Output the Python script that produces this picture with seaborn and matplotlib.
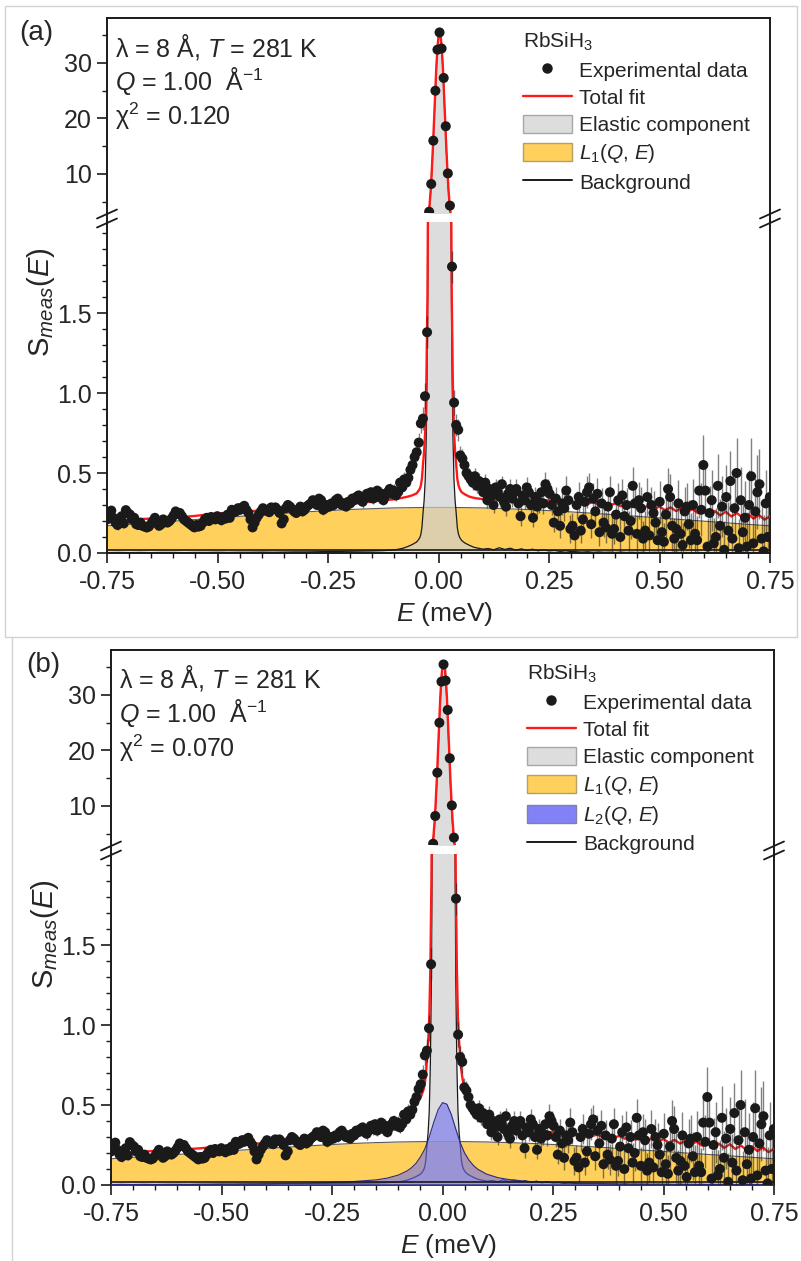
import numpy as np
import pandas as pd
import matplotlib
matplotlib.use("Agg")
import matplotlib.pyplot as plt
import seaborn as sns
from matplotlib.lines import Line2D
from matplotlib.patches import Patch, Rectangle
from matplotlib.ticker import MultipleLocator, FixedLocator, FormatStrFormatter

sns.set_theme(style="ticks")
plt.rcParams["font.family"] = ["Liberation Sans", "DejaVu Sans"]
plt.rcParams["mathtext.fontset"] = "custom"
plt.rcParams["mathtext.rm"] = "Liberation Sans"
plt.rcParams["mathtext.it"] = "Liberation Sans:italic"
plt.rcParams["mathtext.bf"] = "Liberation Sans:bold"
plt.rcParams["axes.unicode_minus"] = False

# ---------------- experimental data (same data set in both panels) ----------------
E_data = 0.00235 + 0.0047 * np.arange(-160, 160)
S_rows = [
    [0.21, 0.24, 0.265, 0.22, 0.19, 0.175, 0.20, 0.23, 0.185, 0.268, 0.25, 0.24, 0.21, 0.22, 0.18, 0.175, 0.19, 0.17, 0.165, 0.16],
    [0.165, 0.18, 0.20, 0.22, 0.19, 0.17, 0.18, 0.21, 0.20, 0.19, 0.20, 0.215, 0.235, 0.26, 0.245, 0.25, 0.23, 0.21, 0.20, 0.19],
    [0.18, 0.17, 0.16, 0.175, 0.165, 0.17, 0.19, 0.21, 0.22, 0.20, 0.225, 0.215, 0.21, 0.23, 0.22, 0.205, 0.225, 0.215, 0.24, 0.22],
    [0.27, 0.255, 0.26, 0.28, 0.27, 0.285, 0.295, 0.27, 0.25, 0.21, 0.16, 0.19, 0.22, 0.24, 0.26, 0.28, 0.265, 0.27, 0.255, 0.285],
    [0.275, 0.285, 0.27, 0.25, 0.185, 0.21, 0.28, 0.30, 0.29, 0.275, 0.26, 0.25, 0.27, 0.29, 0.26, 0.27, 0.29, 0.30, 0.31, 0.33],
    [0.32, 0.30, 0.34, 0.33, 0.27, 0.28, 0.30, 0.29, 0.31, 0.30, 0.33, 0.34, 0.32, 0.30, 0.31, 0.29, 0.32, 0.31, 0.34, 0.33],
    [0.35, 0.36, 0.33, 0.32, 0.34, 0.37, 0.35, 0.38, 0.34, 0.36, 0.39, 0.35, 0.37, 0.33, 0.36, 0.38, 0.40, 0.37, 0.39, 0.36],
    [0.38, 0.44, 0.41, 0.46, 0.44, 0.47, 0.52, 0.55, 0.60, 0.63, 0.69, 0.81, 0.84, 0.98, 1.38, 3.2, 8.2, 16.0, 25.0, 32.4],
    [35.5, 32.6, 27.3, 18.6, 10.1, 4.3, 1.79, 0.94, 0.80, 0.77, 0.61, 0.59, 0.55, 0.50, 0.48, 0.46, 0.44, 0.48, 0.42, 0.45],
    [0.42, 0.38, 0.44, 0.33, 0.40, 0.36, 0.30, 0.41, 0.38, 0.35, 0.43, 0.32, 0.29, 0.37, 0.40, 0.34, 0.38, 0.40, 0.31, 0.23],
    [0.36, 0.33, 0.41, 0.38, 0.30, 0.22, 0.35, 0.29, 0.32, 0.38, 0.31, 0.43, 0.40, 0.37, 0.30, 0.19, 0.34, 0.26, 0.17, 0.31],
    [0.28, 0.39, 0.33, 0.15, 0.17, 0.11, 0.30, 0.35, 0.14, 0.21, 0.32, 0.38, 0.41, 0.18, 0.34, 0.26, 0.37, 0.13, 0.31, 0.19],
    [0.16, 0.29, 0.38, 0.12, 0.15, 0.24, 0.33, 0.10, 0.36, 0.23, 0.30, 0.14, 0.20, 0.42, 0.31, 0.12, 0.33, 0.28, 0.09, 0.14],
    [0.35, 0.11, 0.30, 0.25, 0.19, 0.08, 0.32, 0.13, 0.07, 0.24, 0.40, 0.35, 0.17, 0.09, 0.15, 0.31, 0.12, 0.05, 0.26, 0.29],
    [0.18, 0.08, 0.30, 0.12, 0.08, 0.39, 0.27, 0.55, 0.39, 0.04, 0.25, 0.33, 0.06, 0.10, 0.42, 0.17, 0.29, 0.02, 0.35, 0.14],
    [0.45, 0.09, 0.28, 0.50, 0.03, 0.33, 0.13, 0.22, 0.04, 0.30, 0.48, 0.06, 0.26, 0.38, 0.43, 0.09, 0.01, 0.31, 0.10, 0.35],
]
err_rows = [
    [0.03, 0.02, 0.03, 0.025, 0.02, 0.03, 0.025, 0.02, 0.03, 0.025, 0.02, 0.03, 0.025, 0.03, 0.02, 0.025, 0.03, 0.02, 0.025, 0.03],
    [0.025, 0.03, 0.02, 0.03, 0.025, 0.02, 0.03, 0.025, 0.03, 0.02, 0.025, 0.03, 0.02, 0.03, 0.025, 0.02, 0.03, 0.025, 0.02, 0.03],
    [0.02, 0.03, 0.025, 0.03, 0.02, 0.025, 0.03, 0.02, 0.03, 0.025, 0.03, 0.02, 0.025, 0.03, 0.02, 0.03, 0.025, 0.02, 0.03, 0.025],
    [0.03, 0.025, 0.02, 0.03, 0.025, 0.03, 0.02, 0.03, 0.025, 0.03, 0.02, 0.025, 0.03, 0.02, 0.03, 0.025, 0.03, 0.02, 0.025, 0.03],
    [0.025, 0.03, 0.02, 0.03, 0.025, 0.03, 0.025, 0.02, 0.03, 0.025, 0.03, 0.02, 0.03, 0.025, 0.03, 0.02, 0.025, 0.03, 0.025, 0.03],
    [0.03, 0.025, 0.03, 0.02, 0.03, 0.025, 0.03, 0.025, 0.02, 0.03, 0.025, 0.03, 0.02, 0.03, 0.025, 0.03, 0.025, 0.03, 0.02, 0.03],
    [0.03, 0.035, 0.03, 0.04, 0.03, 0.035, 0.04, 0.03, 0.035, 0.04, 0.03, 0.035, 0.04, 0.03, 0.035, 0.04, 0.035, 0.03, 0.04, 0.035],
    [0.04, 0.035, 0.04, 0.045, 0.04, 0.05, 0.045, 0.05, 0.05, 0.055, 0.06, 0.06, 0.07, 0.08, 0.1, 0.15, 0.25, 0.35, 0.45, 0.5],
    [0.5, 0.5, 0.45, 0.35, 0.25, 0.15, 0.1, 0.08, 0.07, 0.07, 0.06, 0.06, 0.055, 0.05, 0.05, 0.05, 0.045, 0.05, 0.045, 0.05],
    [0.05, 0.045, 0.055, 0.05, 0.045, 0.06, 0.05, 0.055, 0.045, 0.06, 0.05, 0.055, 0.06, 0.05, 0.06, 0.055, 0.05, 0.06, 0.055, 0.06],
    [0.06, 0.055, 0.065, 0.06, 0.07, 0.06, 0.065, 0.055, 0.07, 0.06, 0.065, 0.075, 0.06, 0.07, 0.065, 0.06, 0.07, 0.065, 0.075, 0.07],
    [0.08, 0.09, 0.075, 0.085, 0.08, 0.09, 0.085, 0.095, 0.08, 0.09, 0.085, 0.1, 0.09, 0.085, 0.095, 0.09, 0.1, 0.085, 0.095, 0.09],
    [0.095, 0.105, 0.1, 0.115, 0.095, 0.11, 0.105, 0.12, 0.1, 0.115, 0.105, 0.125, 0.11, 0.12, 0.105, 0.12, 0.115, 0.13, 0.11, 0.12],
    [0.12, 0.13, 0.115, 0.14, 0.12, 0.135, 0.13, 0.145, 0.12, 0.15, 0.13, 0.145, 0.155, 0.13, 0.15, 0.145, 0.155, 0.14, 0.155, 0.145],
    [0.15, 0.17, 0.16, 0.18, 0.15, 0.17, 0.165, 0.19, 0.16, 0.18, 0.17, 0.19, 0.16, 0.18, 0.2, 0.17, 0.19, 0.18, 0.2, 0.18],
    [0.19, 0.17, 0.2, 0.22, 0.18, 0.21, 0.19, 0.23, 0.18, 0.22, 0.24, 0.19, 0.21, 0.23, 0.22, 0.2, 0.23, 0.21, 0.24, 0.22],
]
S_data = np.concatenate([np.array(r, float) for r in S_rows])
S_err = np.concatenate([np.array(r, float) for r in err_rows])

# ---------------- fit curves ----------------
E_fit = np.concatenate([
    np.arange(-0.75, -0.0999, 0.025),
    np.array([-0.09, -0.08, -0.07, -0.06, -0.05]),
    np.arange(-0.0475, 0.0526, 0.0025),
    np.array([0.06, 0.07, 0.08, 0.09, 0.10]),
    np.arange(0.1125, 0.7501, 0.0125),
])
elastic = [
    0.003, 0.004, 0.003, 0.004, 0.003, 0.004, 0.004, 0.003, 0.004, 0.004,
    0.005, 0.004, 0.005, 0.005, 0.006, 0.005, 0.006, 0.007, 0.007,
    0.008, 0.009, 0.010, 0.011, 0.012, 0.013, 0.015, 0.019,
    0.024, 0.030, 0.040, 0.052, 0.068,
    0.075, 0.085, 0.095, 0.115, 0.16, 0.25, 0.33, 0.46, 0.75, 1.3,
    2.5, 4.3, 7.0, 10.6, 14.8, 19.5, 24.3, 28.8, 32.3, 34.5,
    35.2,
    34.5, 32.3, 28.8, 24.3, 19.5, 14.8, 10.6, 7.0, 4.3, 2.5,
    1.3, 0.75, 0.46, 0.33, 0.25, 0.16, 0.12, 0.10, 0.088, 0.078,
    0.062, 0.048, 0.036, 0.030, 0.024,
    0.028, 0.020, 0.033, 0.022, 0.030, 0.018, 0.026, 0.016, 0.024, 0.014,
    0.020, 0.013, 0.016, 0.010, 0.014, 0.009,
    0.008, 0.006, 0.008, 0.005, 0.007, 0.005, 0.006, 0.004, 0.006, 0.004,
    0.005, 0.004, 0.005, 0.003, 0.005, 0.004, 0.004, 0.003, 0.005, 0.003,
    0.004, 0.003, 0.004, 0.003, 0.004, 0.003, 0.004, 0.003, 0.003, 0.004,
    0.003, 0.003, 0.004, 0.003, 0.003, 0.003,
]
total_a = [
    0.203, 0.208, 0.206, 0.212, 0.215, 0.219, 0.222, 0.226, 0.232, 0.240,
    0.247, 0.252, 0.256, 0.261, 0.266, 0.271, 0.277, 0.282, 0.289, 0.294,
    0.300, 0.306, 0.311, 0.317, 0.322, 0.329, 0.336,
    0.341, 0.346, 0.352, 0.360, 0.372,
    0.38, 0.39, 0.40, 0.42, 0.465, 0.555, 0.635, 0.765, 1.055, 1.6,
    2.8, 4.6, 7.3, 10.9, 15.1, 19.8, 24.6, 29.1, 32.6, 34.8,
    35.5,
    34.8, 32.6, 29.1, 24.6, 19.8, 15.1, 10.9, 7.3, 4.6, 2.8,
    1.6, 1.055, 0.765, 0.635, 0.555, 0.465, 0.425, 0.405, 0.39, 0.38,
    0.366, 0.352, 0.345, 0.340, 0.337,
    0.336, 0.340, 0.333, 0.338, 0.330, 0.336, 0.328, 0.333, 0.326, 0.334,
    0.324, 0.330, 0.320, 0.327, 0.316, 0.325, 0.312, 0.322, 0.308, 0.318,
    0.303, 0.314, 0.298, 0.310, 0.292, 0.305, 0.287, 0.300, 0.280, 0.296,
    0.274, 0.290, 0.268, 0.285, 0.262, 0.280, 0.255, 0.275, 0.248, 0.268,
    0.240, 0.262, 0.235, 0.258, 0.228, 0.250, 0.222, 0.245, 0.215, 0.238,
    0.208, 0.230,
]
total_b = [
    0.200, 0.205, 0.204, 0.209, 0.213, 0.217, 0.220, 0.225, 0.229, 0.235,
    0.242, 0.247, 0.252, 0.258, 0.263, 0.269, 0.276, 0.282, 0.290, 0.296,
    0.303, 0.315, 0.324, 0.333, 0.346, 0.365, 0.395,
    0.41, 0.43, 0.46, 0.50, 0.545,
    0.56, 0.58, 0.60, 0.635, 0.695, 0.795, 0.89, 1.04, 1.35, 1.92,
    3.15, 4.97, 7.70, 11.3, 15.5, 20.3, 25.1, 29.6, 33.1, 35.3,
    36.0,
    35.3, 33.1, 29.6, 25.1, 20.3, 15.5, 11.3, 7.70, 4.97, 3.15,
    1.92, 1.35, 1.04, 0.90, 0.81, 0.72, 0.67, 0.63, 0.60, 0.575,
    0.53, 0.49, 0.46, 0.435, 0.415,
    0.398, 0.388, 0.375, 0.370, 0.358, 0.357, 0.346, 0.347, 0.336, 0.341,
    0.329, 0.333, 0.317, 0.324, 0.313, 0.322, 0.309, 0.319, 0.305, 0.315,
    0.300, 0.311, 0.295, 0.307, 0.289, 0.302, 0.284, 0.297, 0.277, 0.293,
    0.271, 0.287, 0.265, 0.282, 0.259, 0.277, 0.252, 0.272, 0.245, 0.265,
    0.237, 0.259, 0.232, 0.255, 0.225, 0.247, 0.219, 0.242, 0.212, 0.235,
    0.205, 0.227,
]
E_L = np.arange(-0.75, 0.7501, 0.05)
L1_a = [0.170, 0.179, 0.189, 0.199, 0.209, 0.219, 0.229, 0.239, 0.248, 0.257,
        0.265, 0.272, 0.277, 0.282, 0.284, 0.285, 0.284, 0.282, 0.277, 0.272,
        0.265, 0.257, 0.248, 0.239, 0.229, 0.219, 0.209, 0.199, 0.189, 0.179, 0.170]
L1_b = [0.164, 0.173, 0.182, 0.191, 0.200, 0.210, 0.219, 0.228, 0.237, 0.245,
        0.253, 0.260, 0.265, 0.269, 0.271, 0.272, 0.271, 0.269, 0.265, 0.260,
        0.253, 0.245, 0.237, 0.228, 0.219, 0.210, 0.200, 0.191, 0.182, 0.173, 0.164]
E_L2 = [-0.75, -0.6, -0.5, -0.4, -0.3, -0.25, -0.2, -0.15, -0.125, -0.1, -0.08, -0.07,
        -0.06, -0.05, -0.04, -0.03, -0.02, -0.01, 0.0, 0.01, 0.02, 0.03, 0.04, 0.05,
        0.06, 0.07, 0.08, 0.1, 0.125, 0.15, 0.2, 0.25, 0.3, 0.4, 0.5, 0.6, 0.75]
L2_b = [0.003, 0.004, 0.006, 0.008, 0.012, 0.016, 0.022, 0.032, 0.043, 0.062, 0.088, 0.108,
        0.135, 0.175, 0.225, 0.30, 0.39, 0.47, 0.515, 0.505, 0.44, 0.35, 0.265, 0.20,
        0.155, 0.122, 0.098, 0.068, 0.046, 0.034, 0.021, 0.015, 0.011, 0.007, 0.005, 0.004, 0.003]
E_bg = [-0.75, 0.75]
bg = [0.016, 0.016]

for name, x, y in [("S", E_data, S_data), ("err", E_data, S_err), ("el", E_fit, elastic),
                   ("ta", E_fit, total_a), ("tb", E_fit, total_b), ("l1a", E_L, L1_a),
                   ("l1b", E_L, L1_b), ("l2", E_L2, L2_b)]:
    if len(x) != len(y):
        raise SystemExit(f"length mismatch {name}: {len(x)} vs {len(y)}")

df = pd.DataFrame({"E": E_data, "S": S_data})

YEL = "#FFD05C"
GRAY = "#CFCFCF"
BLUE = "#6E6EF0"
RED = "#FF1A1A"

W, H = 801, 1261
fig = plt.figure(figsize=(W / 100, H / 100), dpi=100)


def fx(px):
    return px / W


def fy(py):
    return 1 - py / H


def add_ax(l, t, r, b):
    return fig.add_axes([fx(l), fy(b), (r - l) / W, (b - t) / H])


def draw_curves(ax, total, L1, L2=None):
    ax.fill_between(E_L, bg[0], L1, color=YEL, lw=0, zorder=1)
    sns.lineplot(x=E_L, y=L1, ax=ax, color="#5a5a5a", lw=0.8, zorder=1.5, legend=False)
    ax.fill_between(E_fit, 0, elastic, color=GRAY, alpha=0.7, lw=0, zorder=2)
    sns.lineplot(x=E_fit, y=elastic, ax=ax, color="k", lw=0.9, zorder=2.5, legend=False)
    if L2 is not None:
        ax.fill_between(E_L2, 0, L2, color=BLUE, alpha=0.6, lw=0, zorder=2.6)
        sns.lineplot(x=E_L2, y=L2, ax=ax, color="#2a2a80", lw=0.8, zorder=2.7, legend=False)
    sns.lineplot(x=E_bg, y=bg, ax=ax, color="k", lw=1.2, zorder=3, legend=False)
    sns.lineplot(x=E_fit, y=total, ax=ax, color=RED, lw=1.7, zorder=3.5, legend=False)
    ax.errorbar(E_data, S_data, yerr=S_err, fmt="none", ecolor="k", alpha=0.55,
                elinewidth=1.0, capsize=0, zorder=4)
    sns.scatterplot(data=df, x="E", y="S", ax=ax, color="k", s=52, edgecolor="none",
                    linewidth=0, zorder=5, legend=False)


def style_ax(ax):
    for s in ax.spines.values():
        s.set_linewidth(1.4)
        s.set_color("k")
    ax.tick_params(which="major", direction="out", length=7, width=1.2, labelsize=18,
                   color="k", pad=4, right=False, top=False)
    ax.tick_params(which="minor", direction="out", length=3.8, width=1.0,
                   color="k", right=False, top=False)
    ax.set_xlabel("")
    ax.set_ylabel("")
    ax.set_facecolor("white")


def break_marks(xl, xr, y_up, y_lo):
    for xp in (xl, xr):
        fig.add_artist(Line2D([fx(xp), fx(xp)], [fy(y_up), fy(y_lo)], color="k", lw=1.4,
                              transform=fig.transFigure))
        for yc in (y_up + 1, y_lo + 1):
            fig.add_artist(Line2D([fx(xp - 10), fx(xp + 10)], [fy(yc + 4.5), fy(yc - 4.5)],
                                  color="k", lw=1.3, transform=fig.transFigure))


panels = [
    dict(tag="(a)", L=107, R=770, T=18, B1=213, T2=222, B=553, total=total_a, L1=L1_a, L2=None,
         chi="0.120", tagxy=(36, 33)),
    dict(tag="(b)", L=111, R=774, T=650, B1=845, T2=854, B=1185, total=total_b, L1=L1_b, L2=L2_b,
         chi="0.070", tagxy=(43, 665)),
]

for p in panels:
    up = add_ax(p["L"], p["T"], p["R"], p["B1"])
    lo = add_ax(p["L"], p["T2"], p["R"], p["B"])
    for ax in (up, lo):
        draw_curves(ax, p["total"], p["L1"], p["L2"])
        ax.set_xlim(-0.75, 0.75)
        style_ax(ax)
    up.set_ylim(2.97, 38.1)
    lo.set_ylim(0, 2.069)
    up.spines["bottom"].set_visible(False)
    lo.spines["top"].set_visible(False)
    up.tick_params(axis="x", which="both", bottom=False, labelbottom=False)
    up.yaxis.set_major_locator(MultipleLocator(10))
    up.yaxis.set_minor_locator(MultipleLocator(5))
    lo.yaxis.set_major_locator(FixedLocator([0.0, 0.5, 1.0, 1.5]))
    lo.yaxis.set_minor_locator(MultipleLocator(0.1))
    lo.yaxis.set_major_formatter(FormatStrFormatter("%.1f"))
    lo.xaxis.set_major_locator(MultipleLocator(0.25))
    lo.xaxis.set_minor_locator(MultipleLocator(0.05))
    lo.xaxis.set_major_formatter(FormatStrFormatter("%.2f"))
    lo.tick_params(axis="x", which="major", pad=5)
    break_marks(p["L"], p["R"], p["B1"], p["T2"])

    # annotations
    hgt = p["B1"] - p["T"]
    def ayf(py, p=p, hgt=hgt):
        return (p["B1"] - py) / hgt
    up.text(0.012, ayf(p["T"] + 38), "λ = 8 Å, $T$ = 281 K", transform=up.transAxes,
            fontsize=18, ha="left", va="baseline")
    up.text(0.012, ayf(p["T"] + 72), "$Q$ = 1.00  Å$^{-1}$", transform=up.transAxes,
            fontsize=18, ha="left", va="baseline")
    up.text(0.012, ayf(p["T"] + 107), "χ$^{2}$ = " + p["chi"], transform=up.transAxes,
            fontsize=18, ha="left", va="baseline")

    handles = [Line2D([], [], marker="o", ls="none", color="k", ms=6.5),
               Line2D([], [], color=RED, lw=1.7),
               Patch(facecolor="#DDDDDD", edgecolor="#A8A8A8"),
               Patch(facecolor=YEL, edgecolor="#B89E60")]
    labels = ["Experimental data", "Total fit", "Elastic component", "$L_1$($Q$, $E$)"]
    if p["L2"] is not None:
        handles.append(Patch(facecolor="#8282F6", edgecolor="#8080A8"))
        labels.append("$L_2$($Q$, $E$)")
    handles.append(Line2D([], [], color="k", lw=1.4))
    labels.append("Background")
    up.legend(handles, labels, title="RbSiH$_3$", loc="upper left",
              bbox_to_anchor=(416 / 663, ayf(p["T"] + 13)),
              frameon=False, fontsize=15, title_fontsize=15, borderpad=0,
              borderaxespad=0, handlelength=2.35, handleheight=1.0, handletextpad=0.35,
              labelspacing=0.33, alignment="left")

    fig.text(fx(p["tagxy"][0]), fy(p["tagxy"][1]), p["tag"], fontsize=20,
             ha="center", va="center")
    fig.text(fx(p["L"] - 66), fy((p["T2"] + p["B"]) / 2 - 85), "S$_{meas}$($E$)",
             rotation=90, fontsize=21, ha="center", va="center")
    fig.text(fx((p["L"] + p["R"]) / 2 + 6), fy(p["B"] + 61), "$E$ (meV)", fontsize=19,
             ha="center", va="center")

# light screenshot frames
fig.add_artist(Rectangle((fx(5), fy(637)), 792 / W, 631 / H, transform=fig.transFigure,
                         fill=False, ec="#d2d2d2", lw=1.0))
fig.add_artist(Line2D([fx(12), fx(12)], [fy(637), fy(1261)], color="#d2d2d2", lw=1.0,
                      transform=fig.transFigure))

fig.savefig("out.png", dpi=100, facecolor="white")
